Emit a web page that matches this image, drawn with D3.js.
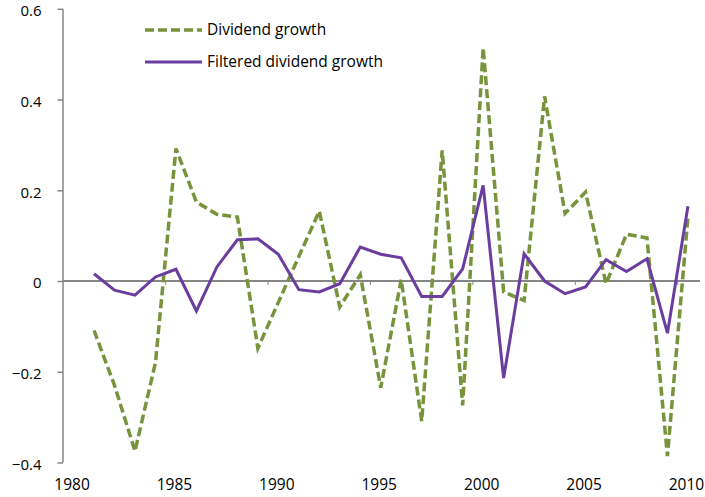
<!DOCTYPE html>
<html>
<head>
<meta charset="utf-8">
<script src="https://cdn.jsdelivr.net/npm/d3@7"></script>
<style>
  body { margin: 0; background: #fff; }
  svg text { font-family: "Open Sans", "Noto Sans", sans-serif; fill: #000; }
</style>
</head>
<body>
<div id="chart"></div>
<script>
// Data
const years = d3.range(1981, 2011);
const dividendGrowth = [-0.109, -0.23, -0.375, -0.18, 0.292, 0.174, 0.147, 0.141, -0.148, -0.047,
  0.054, 0.154, -0.057, 0.014, -0.235, 0.003, -0.309, 0.288, -0.274, 0.514,
  -0.024, -0.043, 0.407, 0.149, 0.196, -0.006, 0.103, 0.095, -0.386, 0.141];
const filteredGrowth = [0.016, -0.020, -0.031, 0.009, 0.026, -0.066, 0.031, 0.091, 0.093, 0.059,
  -0.019, -0.024, -0.006, 0.075, 0.059, 0.051, -0.034, -0.034, 0.027, 0.211,
  -0.214, 0.060, 0.0, -0.028, -0.013, 0.047, 0.021, 0.049, -0.115, 0.165];
const yTicks = [0.6, 0.4, 0.2, 0, -0.2, -0.4];
const xLabels = [1980, 1985, 1990, 1995, 2000, 2005, 2010];
const seriesNames = ["Dividend growth", "Filtered dividend growth"];

const width = 705, height = 497;
const svg = d3.select("#chart").append("svg")
    .attr("width", width)
    .attr("height", height);

// Category axis: one band per year, 1980..2010
const x = d3.scaleBand()
    .domain(d3.range(1980, 2011))
    .range([63.3, 63.3 + 31 * 20.48]);
const xc = yr => x(yr) + x.bandwidth() / 2;

const y = d3.scaleLinear()
    .domain([-0.4, 0.6])
    .range([462.5, 8.8]);

const axisColor = "#868686";
const fmt = d => d === 0 ? "0" : d3.format(".1f")(d);

// Y axis
const yAxis = svg.append("g")
    .attr("transform", "translate(63,0)")
    .call(d3.axisLeft(y).tickValues(yTicks).tickFormat(fmt).tickSize(5.5).tickPadding(16));
yAxis.select(".domain").attr("stroke", axisColor).attr("stroke-width", 1.5)
    .attr("d", `M0,${y(0.6)}V${y(-0.4)}`);
yAxis.selectAll(".tick line").attr("stroke", axisColor).attr("stroke-width", 1.5);
yAxis.selectAll(".tick text").style("font-size", "15px").attr("dy", "0.45em");

// X axis line along zero, with ticks every 5 categories
svg.append("line")
    .attr("x1", 63).attr("x2", 700)
    .attr("y1", y(0)).attr("y2", y(0))
    .attr("stroke", axisColor).attr("stroke-width", 2);
svg.selectAll(".xtick")
    .data([1985, 1990, 1995, 2000, 2005, 2010])
    .join("line")
    .attr("class", "xtick")
    .attr("x1", d => x(d)).attr("x2", d => x(d))
    .attr("y1", y(0)).attr("y2", y(0) + 4)
    .attr("stroke", axisColor).attr("stroke-width", 1);

// X labels at bottom
svg.selectAll(".xlabel")
    .data(xLabels)
    .join("text")
    .attr("class", "xlabel")
    .attr("x", d => xc(d) - 1.5)
    .attr("y", 485)
    .attr("dy", "0.35em")
    .attr("text-anchor", "middle")
    .style("font-size", "15.5px")
    .text(d => d);

const line = d3.line()
    .x(d => xc(d.year))
    .y(d => y(d.value));

const divData = years.map((yr, i) => ({ year: yr, value: dividendGrowth[i] }));
const filtData = years.map((yr, i) => ({ year: yr, value: filteredGrowth[i] }));

svg.append("path")
    .datum(divData)
    .attr("fill", "none")
    .attr("stroke", "#77933c")
    .attr("stroke-width", 3.5)
    .attr("stroke-dasharray", "9,4")
    .attr("d", line);

svg.append("path")
    .datum(filtData)
    .attr("fill", "none")
    .attr("stroke", "#6a3d9f")
    .attr("stroke-width", 3)
    .attr("stroke-linejoin", "miter")
    .attr("d", line);

// Legend
const legend = svg.append("g");
const legendItems = [
    { name: seriesNames[0], color: "#77933c", dash: "9,4", width: 3.5, y: 30 },
    { name: seriesNames[1], color: "#6a3d9f", dash: null, width: 3, y: 62 }
];
legendItems.forEach(it => {
    legend.append("line")
        .attr("x1", 145).attr("x2", 202)
        .attr("y1", it.y).attr("y2", it.y)
        .attr("stroke", it.color)
        .attr("stroke-width", it.width)
        .attr("stroke-dasharray", it.dash);
    legend.append("text")
        .attr("x", 207).attr("y", it.y)
        .attr("dy", "0.35em")
        .style("font-size", "15.5px")
        .text(it.name);
});
</script>
</body>
</html>
